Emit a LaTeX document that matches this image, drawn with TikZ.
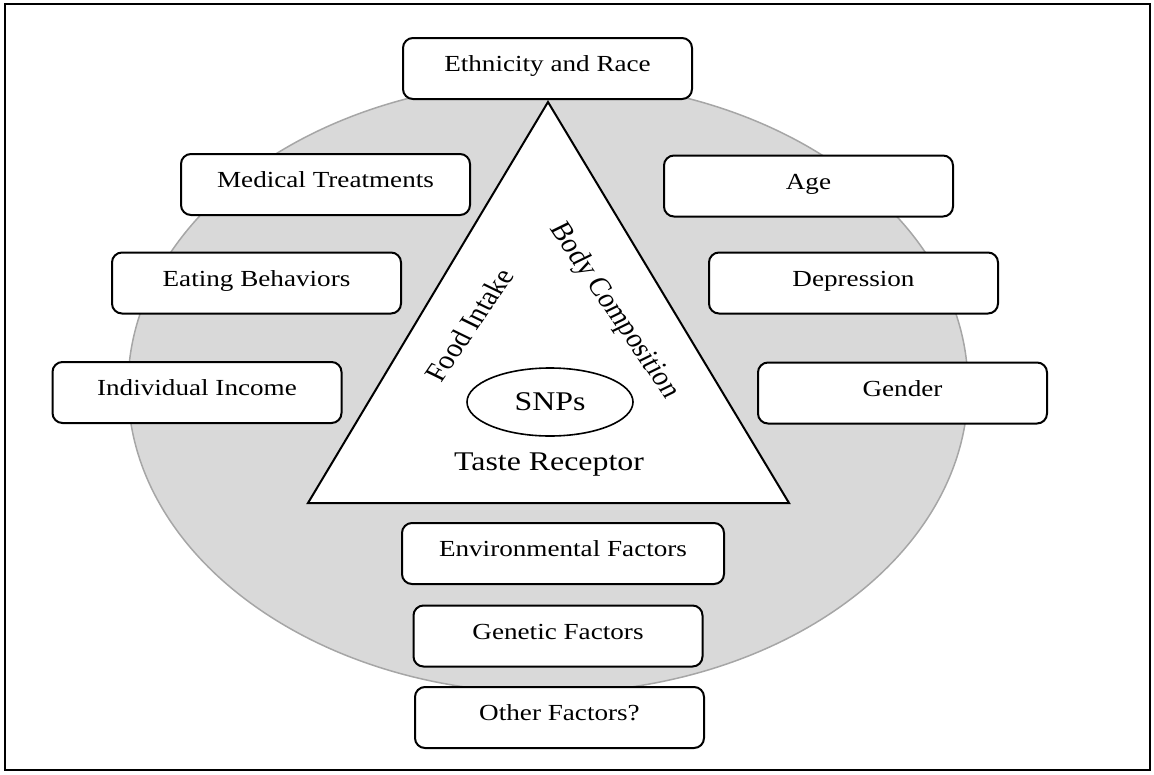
\documentclass[tikz,border=0pt]{standalone}
\usepackage{fontspec}
\setmainfont{Liberation Serif}[FakeStretch=1.18]
\newfontfamily\plainserif{Liberation Serif}
\usetikzlibrary{shapes.geometric}
\definecolor{discfill}{HTML}{D9D9D9}
\definecolor{discline}{HTML}{A6A6A6}

\begin{document}
\begin{tikzpicture}[x=1pt,y=-1pt,
  factor/.style={draw=black, line width=2pt, fill=white, rounded corners=10pt,
    inner sep=0pt, minimum width=289pt, text height=33.5pt, text depth=27.5pt,
    font=\fontsize{23}{27}\selectfont},
  sidelabel/.style={transform shape, inner sep=0pt,
    font=\plainserif\fontsize{26}{31}\selectfont},
  core/.style={font=\fontsize{27}{32}\selectfont}]
\useasboundingbox (0,0) rectangle (1154,774);

% outer frame
\draw[line width=2.5pt] (5,4) rectangle (1150,770);

% grey disc of influencing factors
\filldraw[fill=discfill, draw=discline, line width=1.5pt]
  (548,387) ellipse [x radius=420pt, y radius=306pt];

% central triangle
\draw[line width=2pt, fill=white, line join=miter]
  (548,102) -- (789,503) -- (308,503) -- cycle;

% core of the model
\node[core, draw, ellipse, line width=1.6pt, inner sep=0pt,
      minimum width=166pt, minimum height=68pt] (snps) at (550,402) {SNPs};
\node[core, anchor=base] (taste) at (549,470) {Taste Receptor};

% labels along the triangle sides
\begin{scope}[xscale=1.18]
  \node[sidelabel, rotate=60]  (food) at (397.5,325) {Food Intake};
  \node[sidelabel, rotate=-60] (body) at (520.3,311) {Body Composition};
\end{scope}

% factor boxes
\node[factor] (ethnicity) at (547.5,68.5) {Ethnicity and Race};
\node[factor] (medical)   at (325.5,184.5) {Medical Treatments};
\node[factor] (age)       at (808.5,186) {Age};
\node[factor] (eating)    at (256.5,283) {Eating Behaviors};
\node[factor] (depress)   at (853.5,283) {Depression};
\node[factor] (income)    at (197,392.5) {Individual Income};
\node[factor] (gender)    at (902.5,393) {Gender};
\node[factor, minimum width=322pt] (environ) at (563,553.5) {Environmental Factors};
\node[factor] (genetic)   at (558,636) {Genetic Factors};
\node[factor] (other)     at (559.5,717.5) {Other Factors?};
\end{tikzpicture}
\end{document}
